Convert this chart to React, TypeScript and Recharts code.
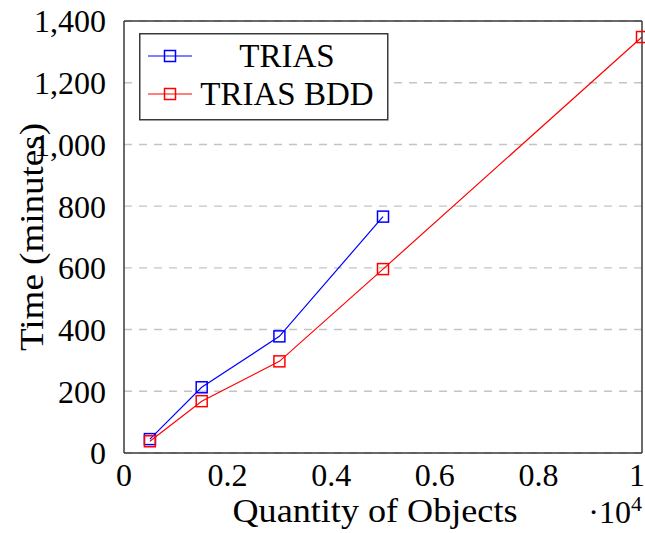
import { CartesianGrid, Line, LineChart, XAxis, YAxis } from "recharts";

// Run time per number of objects (x is the object count)
const objectCounts = [500, 1500, 3000, 5000, 10000];
const triasMinutes = [45, 213, 378, 766];
const triasBddMinutes = [38, 168, 297, 596, 1348];

const xTicks = [0, 2000, 4000, 6000, 8000, 10000];
const yTicks = [0, 200, 400, 600, 800, 1000, 1200, 1400];

const series = [
  { key: "trias", name: "TRIAS", color: "#0000ff" },
  { key: "triasBdd", name: "TRIAS BDD", color: "#ff0000" },
];

const data = objectCounts.map((count, i) => ({
  count,
  trias: triasMinutes[i] ?? null,
  triasBdd: triasBddMinutes[i] ?? null,
}));

const textStyle = { fontFamily: '"Liberation Serif"' };
const FRAME = "#3a3a3a";
const TICK = "#6a6a6a";

function squareDot(color: string) {
  return (props: any) => {
    const { cx, cy, value, index } = props;
    if (value == null || cx == null || cy == null) return <g key={index} />;
    return (
      <rect
        key={index}
        x={cx - 5.5}
        y={cy - 5.5}
        width={11}
        height={11}
        fill="none"
        stroke={color}
        strokeWidth={1.5}
      />
    );
  };
}

// legend box sits over the upper-left corner of the plot
function LegendBox() {
  return (
    <svg
      width={250}
      height={88}
      style={{ position: "absolute", left: 139, top: 33, display: "block" }}
    >
      <rect x={0.75} y={0.75} width={248} height={86} fill="#fff" stroke={FRAME} strokeWidth={1.5} />
      {series.map((s, i) => {
        const cy = 23 + i * 38;
        return (
          <g key={s.key}>
            <line x1={9} x2={53} y1={cy} y2={cy} stroke={s.color} strokeWidth={1.2} />
            <rect x={25.5} y={cy - 5.5} width={11} height={11} fill="none" stroke={s.color} strokeWidth={1.5} />
            <text x={148} y={cy + 11} textAnchor="middle" style={textStyle} fontSize={33} fill="#000">
              {s.name}
            </text>
          </g>
        );
      })}
    </svg>
  );
}

export default function App() {
  return (
    <div style={{ position: "absolute", left: 0, top: 0, width: 645, height: 533, background: "#fff" }}>
      <LineChart
        width={645}
        height={533}
        data={data}
        margin={{ top: 21, right: 3, bottom: 0, left: 0 }}
      >
        <CartesianGrid vertical={false} stroke="#c4c4c4" strokeWidth={1.4} strokeDasharray="8 7" />
        <XAxis
          dataKey="count"
          type="number"
          domain={[0, 10000]}
          ticks={xTicks}
          tickFormatter={(v: number) => String(v / 10000)}
          height={80}
          tickLine={false}
          axisLine={{ stroke: FRAME, strokeWidth: 1.5 }}
          tickMargin={4}
          tick={{ fontSize: 32, fill: "#000", style: textStyle }}
          label={(props: any) => {
            const vb = props.viewBox;
            return (
              <g>
                <text
                  x={vb.x + vb.width / 2 - 8}
                  y={vb.y + 69}
                  textAnchor="middle"
                  style={textStyle}
                  fontSize={33}
                  textLength={285}
                  lengthAdjust="spacingAndGlyphs"
                  fill="#000"
                >
                  Quantity of Objects
                </text>
                <text
                  x={vb.x + vb.width}
                  y={vb.y + 70}
                  textAnchor="end"
                  style={textStyle}
                  fontSize={32}
                  fill="#000"
                >
                  ·10
                  <tspan dy={-12} fontSize={22}>
                    4
                  </tspan>
                </text>
              </g>
            );
          }}
        />
        <XAxis
          xAxisId="bottomTicks"
          dataKey="count"
          type="number"
          domain={[0, 10000]}
          ticks={xTicks}
          mirror
          tick={false}
          axisLine={false}
          tickSize={9}
          tickLine={{ stroke: TICK, strokeWidth: 1.2 }}
        />
        <XAxis
          xAxisId="top"
          orientation="top"
          dataKey="count"
          type="number"
          domain={[0, 10000]}
          ticks={xTicks}
          mirror
          tick={false}
          tickSize={9}
          axisLine={{ stroke: FRAME, strokeWidth: 1.5 }}
          tickLine={{ stroke: TICK, strokeWidth: 1.2 }}
        />
        <YAxis
          type="number"
          domain={[0, 1400]}
          ticks={yTicks}
          width={124}
          tickLine={false}
          axisLine={{ stroke: FRAME, strokeWidth: 1.5 }}
          tickMargin={12}
          tickFormatter={(v: number) => v.toLocaleString("en-US")}
          tick={{ fontSize: 32, fill: "#000", style: textStyle }}
          label={(props: any) => {
            const vb = props.viewBox;
            const cx = vb.x + 32;
            const cy = vb.y + vb.height / 2;
            return (
              <text
                x={cx}
                y={cy}
                transform={`rotate(-90 ${cx} ${cy})`}
                textAnchor="middle"
                dominantBaseline="central"
                style={textStyle}
                fontSize={33}
                textLength={228}
                lengthAdjust="spacingAndGlyphs"
                fill="#000"
              >
                Time (minutes)
              </text>
            );
          }}
        />
        <YAxis
          yAxisId="leftTicks"
          type="number"
          domain={[0, 1400]}
          ticks={yTicks}
          mirror
          tick={false}
          axisLine={false}
          tickSize={9}
          tickLine={{ stroke: TICK, strokeWidth: 1.2 }}
        />
        <YAxis
          yAxisId="right"
          orientation="right"
          type="number"
          domain={[0, 1400]}
          ticks={yTicks}
          mirror
          tick={false}
          tickSize={9}
          axisLine={{ stroke: FRAME, strokeWidth: 1.5 }}
          tickLine={{ stroke: TICK, strokeWidth: 1.2 }}
        />
        {series.map((s) => (
          <Line
            key={s.key}
            dataKey={s.key}
            name={s.name}
            type="linear"
            stroke={s.color}
            strokeWidth={1.2}
            dot={squareDot(s.color)}
            activeDot={false}
            connectNulls={false}
            isAnimationActive={false}
          />
        ))}
      </LineChart>
      <LegendBox />
    </div>
  );
}
